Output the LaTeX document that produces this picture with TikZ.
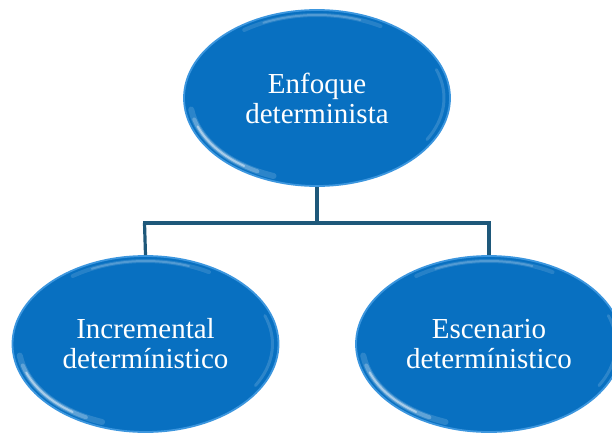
\documentclass[tikz,border=0pt]{standalone}
\usepackage{fontspec}
\setmainfont{Liberation Serif}
\usetikzlibrary{shapes.geometric}
\definecolor{orbblue}{RGB}{8,112,193}
\definecolor{orbrim}{RGB}{60,150,222}
\definecolor{linkteal}{RGB}{30,88,122}
\tikzset{
  orb/.style={ellipse, minimum width=266pt, minimum height=176pt, inner sep=0pt,
    fill=orbblue, draw=orbrim, line width=1.8pt, text=white, align=center,
    font=\fontsize{29}{30}\selectfont},
  link/.style={draw=linkteal, line width=3.2pt},
  shine/.style={white, line cap=round}
}
% soft glossy highlight along part of an ellipse's border
\newcommand{\orbarc}[5]{% node, start, end, width, opacity
  \draw[shine, line width=#4, opacity=#5] ([shift={(#2:127pt and 83pt)}]#1.center)
    arc[start angle=#2, end angle=#3, x radius=127pt, y radius=83pt];
}
\newcommand{\orbshine}[1]{%
  \orbarc{#1}{188}{250}{6pt}{0.15}
  \orbarc{#1}{195}{242}{4pt}{0.25}
  \orbarc{#1}{200}{235}{2pt}{0.45}
  \orbarc{#1}{60}{125}{4pt}{0.12}
  \orbarc{#1}{70}{115}{2pt}{0.2}
  \orbarc{#1}{-30}{20}{3pt}{0.15}
}
\begin{document}
\begin{tikzpicture}[x=1pt,y=1pt]
  \useasboundingbox (0,0) rectangle (612,432);
  \begin{scope}
    \clip (0,0) rectangle (612,432);
    \coordinate (hub) at (317,209);
    \coordinate (hl) at (144.5,209);
    \coordinate (hr) at (489,209);
    \node[orb] (top) at (317,334) {Enfoque\\determinista};
    \node[orb] (left) at (145.5,88) {Incremental\\determínistico};
    \node[orb] (right) at (489,88) {Escenario\\determínistico};
    % connectors
    \draw[link] (top.south) -- (hub);
    \draw[link, line cap=rect] (hl) -- (hr);
    \draw[link] (hl) -- (left.north);
    \draw[link] (hr) -- (right.north);
    \orbshine{top}
    \orbshine{left}
    \orbshine{right}
  \end{scope}
\end{tikzpicture}
\end{document}
